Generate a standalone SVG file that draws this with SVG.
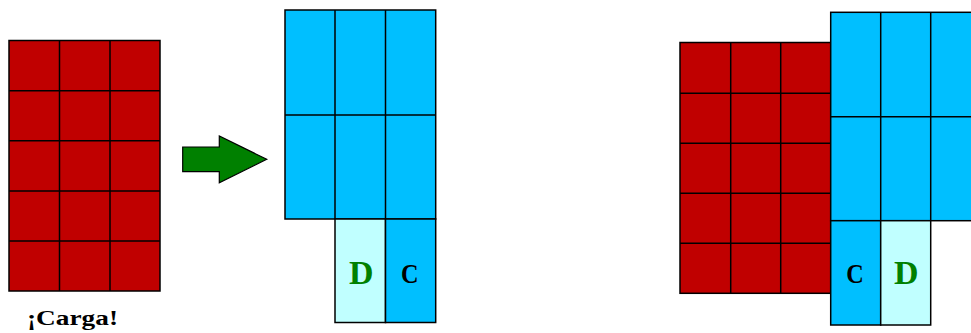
<svg xmlns="http://www.w3.org/2000/svg" width="971" height="333" viewBox="0 0 971 333">
<style>
.red{fill:#C00000;stroke:#000;stroke-width:1.5}
.blue{fill:#00BFFF;stroke:#000;stroke-width:1.5}
.light{fill:#C0FFFF;stroke:#000;stroke-width:1.5}
.grid{stroke:#000;stroke-width:1.5;fill:none}
.lbl{font-family:"Liberation Serif",serif;font-weight:bold}
.d{font-size:34px;fill:#008000}
.c{font-size:27px;fill:#000}
</style>
<rect width="971" height="333" fill="#fff"/>
<g id="red-left">
<rect class="red" x="9" y="40.5" width="151" height="250.5"/>
<path class="grid" d="M59.5 40.5V291M110 40.5V291M9 90.7H160M9 140.8H160M9 191H160M9 241H160"/>
</g>
<g id="label-carga">
<text class="lbl" x="27" y="324.5" font-size="22" textLength="91" lengthAdjust="spacingAndGlyphs">¡Carga!</text>
</g>
<g id="arrow">
<path d="M182.7 147H219.3V136L266.7 159.3L219.3 182.7V171.7H182.7Z" fill="#008000" stroke="#000" stroke-width="1.2"/>
</g>
<g id="blue-middle">
<rect class="blue" x="285" y="10" width="150.7" height="209"/>
<path class="grid" d="M335 10V219M385.5 10V219M285 115H435.7"/>
<rect class="light" x="335" y="219" width="50.5" height="103.5"/>
<rect class="blue" x="385.5" y="219" width="50.2" height="103.5"/>
<text class="lbl d" x="361.2" y="284.3" text-anchor="middle">D</text>
<text class="lbl c" x="409.7" y="282.7" text-anchor="middle" textLength="17.5" lengthAdjust="spacingAndGlyphs">C</text>
</g>
<g id="red-right">
<rect class="red" x="680" y="42.5" width="150.7" height="250.8"/>
<path class="grid" d="M730.7 42.5V293.3M780.7 42.5V293.3M680 93.3H830.7M680 143.3H830.7M680 193.3H830.7M680 243.3H830.7"/>
</g>
<g id="blue-right">
<rect class="blue" x="830.7" y="12.3" width="152" height="208.4"/>
<path class="grid" d="M880.7 12.3V220.7M930.7 12.3V220.7M830.7 116.7H982"/>
<rect class="blue" x="830.7" y="220.7" width="50" height="104.3"/>
<rect class="light" x="880.7" y="220.7" width="50" height="104.3"/>
<text class="lbl c" x="855" y="282.7" text-anchor="middle" textLength="17.5" lengthAdjust="spacingAndGlyphs">C</text>
<text class="lbl d" x="906.2" y="284.3" text-anchor="middle">D</text>
</g>
</svg>
